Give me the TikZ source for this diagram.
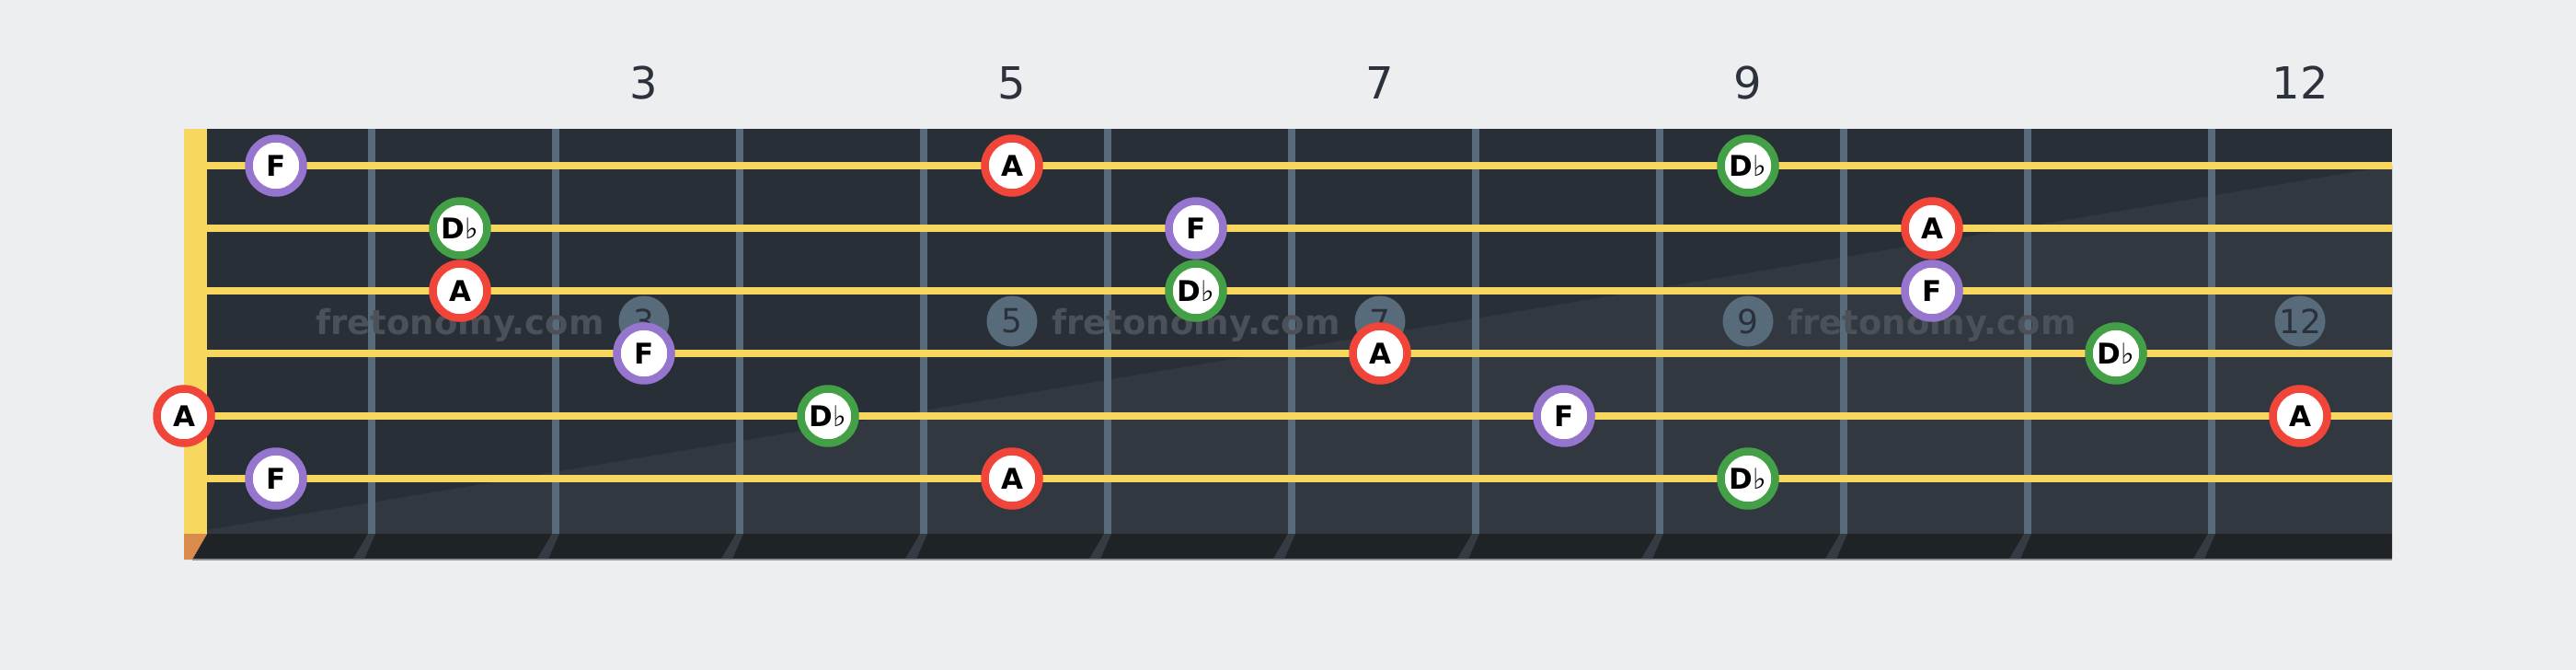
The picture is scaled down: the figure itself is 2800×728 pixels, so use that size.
\documentclass[tikz,border=0pt]{standalone}
\usepackage{fontspec}
\setmainfont{DejaVu Sans}
\newfontface\flatface{DejaVu Sans}
\definecolor{bgc}{HTML}{EDEEF0}
\definecolor{boardc}{HTML}{282F37}
\definecolor{boardlight}{HTML}{313840}
\definecolor{stripc}{HTML}{202326}
\definecolor{fretc}{HTML}{586B7B}
\definecolor{stringc}{HTML}{F8D75E}
\definecolor{nutbot}{HTML}{DA8A4A}
\definecolor{shadowc}{HTML}{363A42}
\definecolor{edgec}{HTML}{8A9099}
\definecolor{numc}{HTML}{2B323B}
\definecolor{wmtext}{HTML}{4B5059}
\definecolor{wmnum}{HTML}{2A313A}
\definecolor{redc}{HTML}{F2453A}
\definecolor{purplec}{HTML}{9575CD}
\definecolor{greenc}{HTML}{43A047}
\newcommand{\flt}{D{\flatface ♭}}
\tikzset{
  note/.style={circle, draw=#1, line width=8.5pt, fill=white, minimum size=59pt,
    inner sep=0pt, text=black, font=\fontsize{31}{31}\selectfont\bfseries},
  fretnum/.style={text=numc, font=\fontsize{48}{48}\selectfont, inner sep=0pt},
  wmdot/.style={circle, fill=fretc, minimum size=55pt, inner sep=0pt, text=wmnum,
    font=\fontsize{36}{36}\selectfont},
  wmword/.style={text=wmtext, anchor=base, inner sep=0pt,
    font=\fontsize{37}{37}\selectfont\bfseries}
}
\begin{document}
\begin{tikzpicture}[x=1pt,y=-1pt]
\fill[bgc] (0,0) rectangle (2800,728);
\useasboundingbox (0,0) rectangle (2800,728);
% board
\fill[boardc] (200,140) rectangle (2600,580);
\fill[boardlight] (200,580) -- (2600,180) -- (2600,580) -- cycle;
% bottom strip
\fill[stripc] (225,580) -- (2600,580) -- (2600,607) -- (209,607) -- cycle;
\fill[edgec] (209,607) rectangle (2600,609);
\fill[nutbot] (200,580) -- (225,580) -- (209,608) -- (200,608) -- cycle;
% frets
\foreach \i in {1,...,11}{
  \pgfmathsetmacro{\fx}{200+200*\i}
  \fill[fretc] (\fx,140) rectangle (\fx+8,580);
  \fill[shadowc] (\fx,580) -- (\fx+8,580) -- (\fx-4,607) -- (\fx-16,607) -- cycle;
}
% strings
\foreach \sy in {180,248,316,384,452,520}{
  \fill[stringc] (225,\sy-4) rectangle (2600,\sy+4);
}
% nut
\fill[stringc] (200,140) rectangle (225,580);
% fret numbers
\node[fretnum] (n3) at (700,90) {3};
\node[fretnum] (n5) at (1100,90) {5};
\node[fretnum] (n7) at (1500,90) {7};
\node[fretnum] (n9) at (1900,90) {9};
\node[fretnum] (n12) at (2500,90) {12};
% watermark
\node[wmword] (w1) at (500,363) {fretonomy.com};
\node[wmword] (w2) at (1300,363) {fretonomy.com};
\node[wmword] (w3) at (2100,363) {fretonomy.com};
\node[wmdot] (d3) at (700,349) {3};
\node[wmdot] (d5) at (1100,349) {5};
\node[wmdot] (d7) at (1500,349) {7};
\node[wmdot] (d9) at (1900,349) {9};
\node[wmdot] (d12) at (2500,349) {12};
% notes string 1
\node[note=purplec] (s1a) at (300,180) {F};
\node[note=redc] (s1b) at (1100,180) {A};
\node[note=greenc] (s1c) at (1900,180) {\flt};
% string 2
\node[note=greenc] (s2a) at (500,248) {\flt};
\node[note=purplec] (s2b) at (1300,248) {F};
\node[note=redc] (s2c) at (2100,248) {A};
% string 3
\node[note=redc] (s3a) at (500,316) {A};
\node[note=greenc] (s3b) at (1300,316) {\flt};
\node[note=purplec] (s3c) at (2100,316) {F};
% string 4
\node[note=purplec] (s4a) at (700,384) {F};
\node[note=redc] (s4b) at (1500,384) {A};
\node[note=greenc] (s4c) at (2300,384) {\flt};
% string 5
\node[note=redc] (s5a) at (200,452) {A};
\node[note=greenc] (s5b) at (900,452) {\flt};
\node[note=purplec] (s5c) at (1700,452) {F};
\node[note=redc] (s5d) at (2500,452) {A};
% string 6
\node[note=purplec] (s6a) at (300,520) {F};
\node[note=redc] (s6b) at (1100,520) {A};
\node[note=greenc] (s6c) at (1900,520) {\flt};
\end{tikzpicture}
\end{document}
